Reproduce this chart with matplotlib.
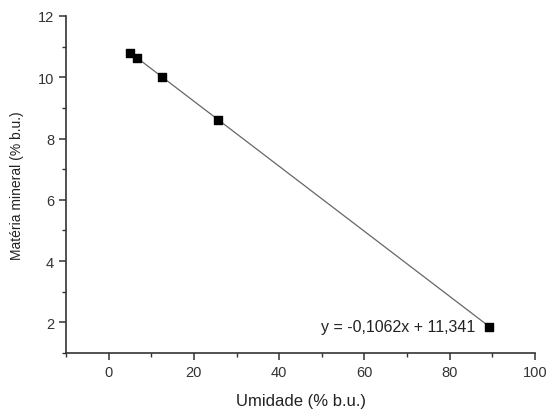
import matplotlib
matplotlib.use("Agg")
import matplotlib.pyplot as plt
import numpy as np
from matplotlib.ticker import MultipleLocator

plt.rcParams['font.family'] = ['Liberation Sans', 'DejaVu Sans']

umidade = [5.0, 6.7, 12.5, 25.6, 89.1]
materia = [10.80, 10.63, 10.00, 8.60, 1.86]
slope = -0.1062
intercept = 11.341
eq_label = "y = -0,1062x + 11,341"

fig = plt.figure(figsize=(5.48, 4.14), dpi=100)
ax = fig.add_axes([0.1204, 0.145, 0.856, 0.814])

xfit = np.array([umidade[0], umidade[-1]])
ax.plot(xfit, slope * xfit + intercept, color='#666666', lw=0.9, zorder=1)
ax.scatter(umidade, materia, marker='s', s=32, color='black', zorder=2)

ax.set_xlim(-10, 100)
ax.set_ylim(1, 12)
ax.xaxis.set_minor_locator(MultipleLocator(10))
ax.yaxis.set_minor_locator(MultipleLocator(1))
ax.set_xticks([0, 20, 40, 60, 80, 100])
ax.set_yticks([2, 4, 6, 8, 10, 12])

for s in ['top', 'right']:
    ax.spines[s].set_visible(False)
for s in ['left', 'bottom']:
    ax.spines[s].set_linewidth(1.2)
    ax.spines[s].set_color('#333333')

ax.tick_params(which='major', direction='out', length=5, width=1.1, colors='#333333',
               labelsize=10.5, labelcolor='#333333')
ax.tick_params(which='minor', direction='out', length=3, width=1.0, colors='#333333')

ax.set_xlabel('Umidade (% b.u.)', fontsize=12, color='#222222', labelpad=10)
ax.set_ylabel('Matéria mineral (% b.u.)', fontsize=10, color='#222222', labelpad=10)

ax.text(85.9, 1.85, eq_label, fontsize=11.5, color='#222222', ha='right', va='center')

fig.savefig('out.png', dpi=100)
